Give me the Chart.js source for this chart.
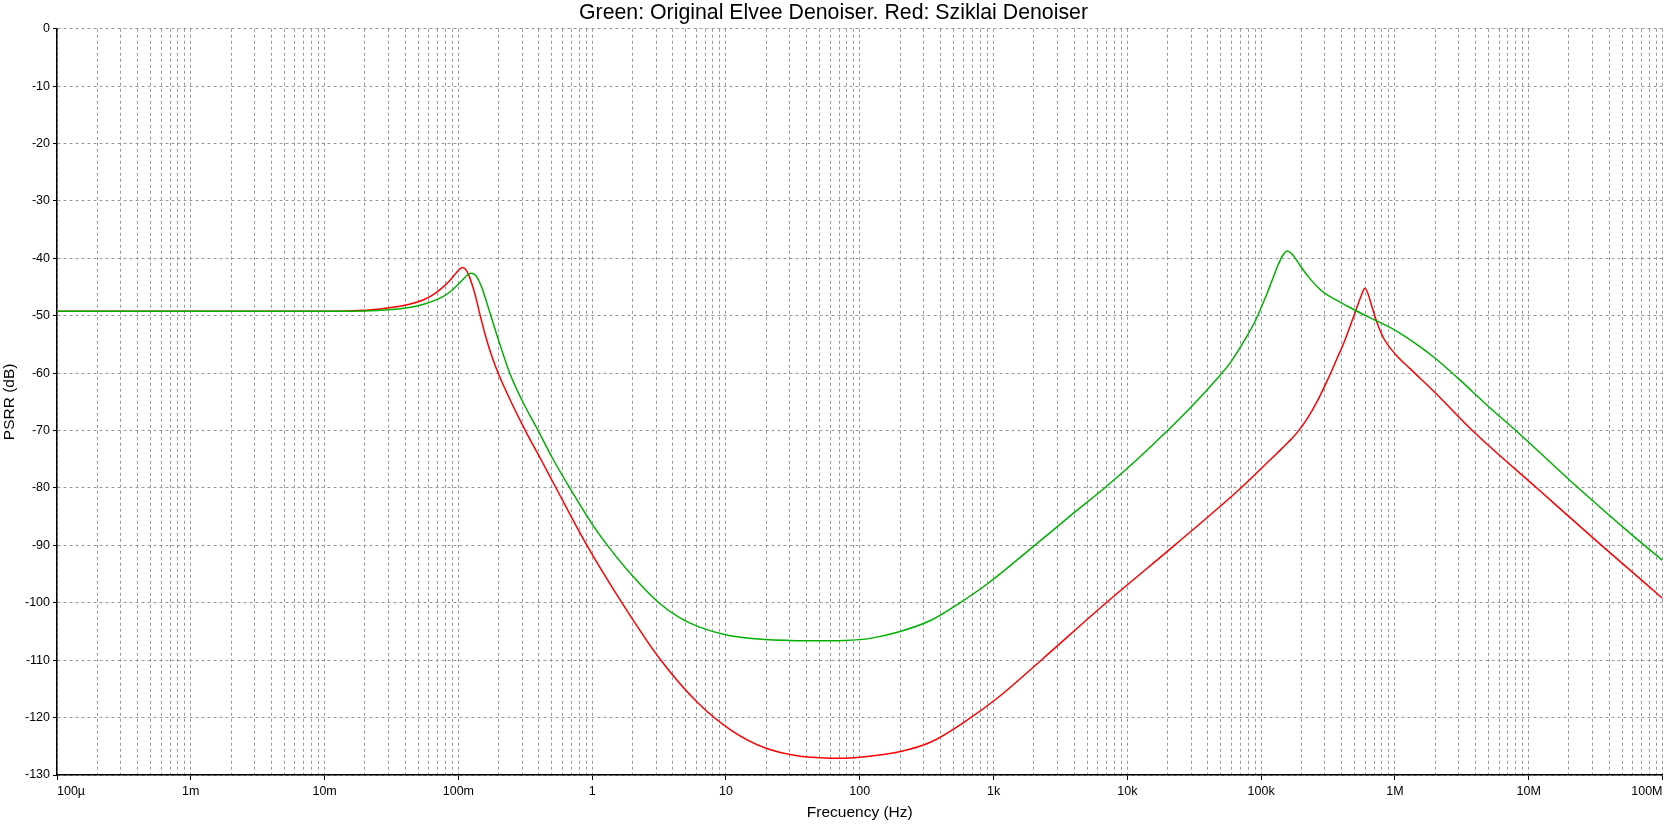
<!doctype html>
<html lang="en">
  <head>
    <meta charset="utf-8">
    <title>PSRR - Elvee vs Sziklai</title>
    <style>
      * {
        margin: 0;
        padding: 0;
      }
      body {
        background: white;
      }
      .chartBox {
        width: 1667px;
        height: 824px;
      }
    </style>
  </head>
  <body>
    <div class="chartBox">
      <canvas id="myChart"></canvas>
    </div>
    <script src="https://cdn.jsdelivr.net/npm/chart.js/dist/chart.umd.min.js"></script>
    <script>
    // data (Hz, dB)
    const greenFreq = [1e-4, 1e-3, 1e-2, 0.02, 0.03, 0.043, 0.055, 0.065, 0.076, 0.086, 0.095, 0.102, 0.11,
      0.117, 0.124, 0.131, 0.138, 0.145, 0.152, 0.161, 0.175, 0.2, 0.244, 0.3, 0.395, 0.5, 0.68, 1, 1.3,
      2, 3.15, 4.5, 6.27, 10.5, 19.7, 30, 50, 76, 120, 194, 344, 561, 912, 2030, 4000, 6760, 12000,
      20000, 32000, 45900, 60000, 75000, 90000, 100000, 110000, 120000, 132000, 145000, 157000, 168000,
      180000, 200000, 235000, 270000, 300000, 360000, 417000, 500000, 621000, 1e6, 1.5e6, 2e6, 3e6,
      5e6, 8.2e6, 23.5e6, 60e6, 1e8];
    const greenDb = [-49.2, -49.2, -49.2, -49.15, -48.95, -48.55, -48.0, -47.4, -46.7, -45.9, -45.0, -44.3, -43.5,
      -42.9, -42.6, -42.75, -43.3, -44.3, -45.5, -47.3, -50.0, -54.3, -60.2, -64.8, -70.0, -74.6, -80.0, -86.3, -90.0,
      -95.3, -100.0, -102.6, -104.2, -105.7, -106.4, -106.55, -106.6, -106.55, -106.2, -105.1, -103.0, -100.0, -96.6, -90.0, -84.3, -80.0, -74.9,
      -70.0, -65.2, -61.2, -57.9, -54.3, -51.0, -48.6, -46.3, -44.0, -41.5, -39.5, -38.7, -39.1,
      -40.0, -41.6, -43.7, -45.2, -46.1, -47.2, -48.0, -49.0, -50.1, -52.5, -55.2, -57.4, -61.0,
      -65.8, -70.2, -80.0, -88.3, -92.6];

    const redFreq = [1e-4, 1e-3, 1e-2, 0.015, 0.026, 0.043, 0.055, 0.065, 0.076, 0.086, 0.095, 0.102, 0.108,
      0.114, 0.12, 0.128, 0.135, 0.145, 0.16, 0.18, 0.2, 0.25, 0.323, 0.42, 0.537, 0.914, 1.67, 3.19,
      6.27, 11.1, 19.7, 34.9, 50, 70, 100, 194, 344, 611, 1082, 2270, 6950, 22500, 70600, 132000,
      160000, 185000, 220000, 260000, 322000, 370000, 417000, 480000, 524000, 560000, 597000, 630000,
      678000, 738000, 828000, 1e6, 1.31e6, 2e6, 3.88e6, 11.5e6, 35e6, 1e8];
    const redDb = [-49.2, -49.2, -49.2, -49.15, -48.8, -48.0, -47.2, -46.3, -45.1, -43.9, -42.7, -41.9, -41.6,
      -42.0, -43.0, -44.9, -46.8, -49.8, -53.6, -57.4, -60.2, -65.2, -70.4, -75.3, -80.0, -90.0, -100.0, -109.7,
      -117.6, -122.3, -125.3, -126.7, -127.0, -127.1, -126.9, -126.0, -124.2, -120.7, -116.5, -110.0, -100.0, -90.0, -80.0, -73.9,
      -72.0, -70.4, -68.0, -65.1, -60.6, -57.4, -54.6, -50.8, -48.3, -46.5, -45.2, -46.2,
      -48.6, -51.3, -54.0, -56.6, -59.3, -63.4, -70.2, -80.0, -90.0, -99.2];

    // x axis: one labelled tick per decade, grid lines at 2..9
    const decadeValues = [1e-4, 1e-3, 1e-2, 1e-1, 1, 10, 100, 1e3, 1e4, 1e5, 1e6, 1e7, 1e8];
    const decadeLabels = ['100µ', '1m', '10m', '100m', '1', '10', '100', '1k', '10k', '100k', '1M', '10M', '100M'];
    const minorSteps = [1, 2, 3, 4, 5, 6, 7, 8, 9];

    const xTicks = [];
    decadeValues.forEach((d, i) => {
      if (i === decadeValues.length - 1) {
        xTicks.push({ value: d });
        return;
      }
      minorSteps.forEach(m => xTicks.push({ value: Number((m * d).toPrecision(6)) }));
    });

    function decadeIndex(v) {
      return decadeValues.findIndex(d => Math.abs(v - d) / d < 1e-6);
    }

    // setup
    const data = {
      datasets: [{
        label: 'Original Elvee Denoiser',
        data: greenFreq.map((f, i) => ({ x: f, y: greenDb[i] })),
        borderColor: '#00b000',
        borderWidth: 1.5,
        pointRadius: 0,
        cubicInterpolationMode: 'monotone'
      }, {
        label: 'Sziklai Denoiser',
        data: redFreq.map((f, i) => ({ x: f, y: redDb[i] })),
        borderColor: '#ff0000',
        borderWidth: 1.5,
        pointRadius: 0,
        cubicInterpolationMode: 'monotone'
      }]
    };

    const gridGray = 'rgb(150, 150, 168)';

    // config
    const config = {
      type: 'line',
      data,
      options: {
        responsive: true,
        maintainAspectRatio: false,
        animation: false,
        layout: { padding: 0 },
        plugins: {
          legend: { display: false },
          tooltip: { enabled: false },
          title: {
            display: true,
            text: 'Green: Original Elvee Denoiser. Red: Sziklai Denoiser',
            color: '#000',
            font: { family: 'Liberation Sans', size: 21.3, weight: 'normal' },
            padding: { top: 0, bottom: 3.2 }
          }
        },
        scales: {
          x: {
            type: 'logarithmic',
            min: 1e-4,
            max: 1e8,
            afterBuildTicks: scale => { scale.ticks = xTicks.map(t => ({ value: t.value })); },
            afterFit: scale => { scale.height = 49; },
            ticks: {
              autoSkip: false,
              maxRotation: 0,
              minRotation: 0,
              align: 'inner',
              padding: 4.5,
              color: '#000',
              font: { family: 'Liberation Sans', size: 12.5 },
              callback: value => {
                const i = decadeIndex(value);
                return i >= 0 ? decadeLabels[i] : '';
              }
            },
            grid: {
              color: gridGray,
              lineWidth: 1,
              tickLength: 5,
              tickColor: ctx => (ctx.tick && decadeIndex(ctx.tick.value) >= 0) ? '#000' : 'rgba(0,0,0,0)',
              tickBorderDash: []
            },
            border: { display: true, color: '#000', width: 1.5, dash: [3, 3] },
            title: {
              display: true,
              text: 'Frecuency (Hz)',
              color: '#000',
              font: { family: 'Liberation Sans', size: 15.5 },
              padding: { top: 0, bottom: 1.5 }
            }
          },
          y: {
            min: -130,
            max: 0,
            afterFit: scale => { scale.width = 57; },
            ticks: {
              stepSize: 10,
              padding: 3,
              color: '#000',
              font: { family: 'Liberation Sans', size: 12.5 }
            },
            grid: {
              color: gridGray,
              lineWidth: 1,
              tickLength: 4,
              tickColor: '#000',
              tickBorderDash: []
            },
            border: { display: true, color: '#000', width: 1.5, dash: [3, 3] },
            title: {
              display: true,
              text: 'PSRR (dB)',
              color: '#000',
              font: { family: 'Liberation Sans', size: 15.5 },
              padding: { top: 0, bottom: 0 }
            }
          }
        }
      }
    };

    // render init block
    const myChart = new Chart(
      document.getElementById('myChart'),
      config
    );
    </script>
  </body>
</html>
